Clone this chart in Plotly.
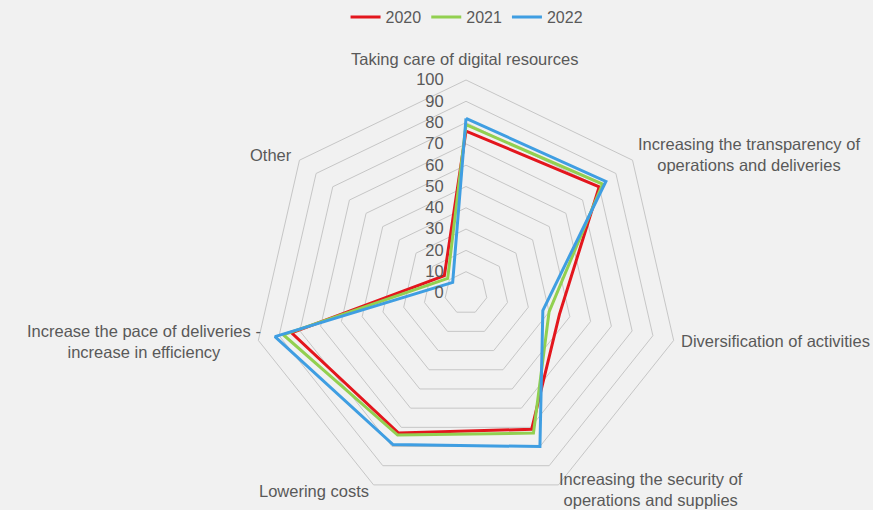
import plotly.graph_objects as go

categories = [
    "Taking care of digital resources",
    "Increasing the transparency of<br>operations and deliveries",
    "Diversification of activities",
    "Increasing the security of<br>operations and supplies",
    "Lowering costs",
    "Increase the pace of deliveries -<br>increase in efficiency",
    "Other",
]
series_names = ["2020", "2021", "2022"]
values_2020 = [76, 80, 45, 71, 73, 84, 13]
values_2021 = [79, 82, 40, 73, 74, 88, 11]
values_2022 = [82, 84, 37, 80, 79, 92, 8]
radial_ticks = list(range(0, 101, 10))

colors = ["#e3161d", "#92d050", "#3f9ee2"]

W, H = 873, 510
CX, CY, R = 466, 293, 213
FONT = "Liberation Sans, Arial"
TXT = "#595959"

fig = go.Figure()
theta_ids = list(range(len(categories)))
for name, vals, col in zip(series_names, [values_2020, values_2021, values_2022], colors):
    fig.add_trace(go.Scatterpolar(
        r=vals + vals[:1],
        theta=[str(t) for t in theta_ids] + [str(theta_ids[0])],
        mode="lines",
        name=name,
        line=dict(color=col, width=3),
    ))

# category label placements (pixel position, anchors)
label_pos = [
    (464, 70, "center", "bottom"),
    (636, 154, "left", "middle"),
    (679, 341, "left", "middle"),
    (557, 489, "left", "middle"),
    (371, 491, "right", "middle"),
    (263, 341, "right", "middle"),
    (294, 155, "right", "middle"),
]
annotations = []
for text, (px, py, xa, ya) in zip(categories, label_pos):
    annotations.append(dict(
        text=text, x=px / W, y=1 - py / H, xref="paper", yref="paper",
        xanchor=xa, yanchor=ya, showarrow=False, align="center",
        font=dict(size=16.5, color=TXT, family=FONT),
    ))

fig.update_layout(
    width=W, height=H,
    margin=dict(l=0, r=0, t=0, b=0),
    paper_bgcolor="#f1f1f1",
    font=dict(family=FONT, color=TXT, size=16),
    showlegend=True,
    legend=dict(orientation="h", x=0.535, xanchor="center", y=1.0, yanchor="top",
                font=dict(size=16, color=TXT, family=FONT), bgcolor="rgba(0,0,0,0)",
                itemwidth=30, tracegroupgap=0),
    polar=dict(
        domain=dict(x=[(CX - R) / W, (CX + R) / W], y=[(H - CY - R) / H, (H - CY + R) / H]),
        bgcolor="#f1f1f1",
        gridshape="linear",
        radialaxis=dict(
            range=[0, 100], tickvals=radial_ticks, ticktext=[str(t) for t in radial_ticks],
            angle=90, tickangle=90, side="counterclockwise",
            showline=False, ticks="outside", ticklen=16, tickcolor="rgba(0,0,0,0)",
            gridcolor="#c6c6c6", gridwidth=1,
            tickfont=dict(size=16.5, color=TXT, family=FONT),
        ),
        angularaxis=dict(
            direction="clockwise", rotation=90, type="category",
            categoryarray=[str(t) for t in theta_ids],
            showticklabels=False, ticks="", showgrid=False,
            showline=True, linecolor="#c6c6c6", linewidth=1,
        ),
    ),
    annotations=annotations,
)

fig.write_html("out.html", config={"displayModeBar": False},
               post_script="document.body.style.margin='0';document.body.style.overflow='hidden';")
